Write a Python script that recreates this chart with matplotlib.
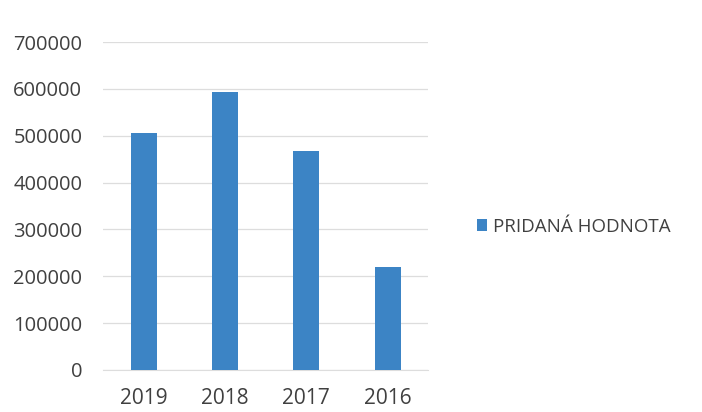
import numpy as np
import matplotlib
matplotlib.use("Agg")
import matplotlib.pyplot as plt

# data
years = ["2019", "2018", "2017", "2016"]
values = [505000, 593000, 467000, 220000]
series_name = "PRIDANÁ HODNOTA"
y_ticks = [0, 100000, 200000, 300000, 400000, 500000, 600000, 700000]

plt.rcParams['font.family'] = ['Open Sans', 'DejaVu Sans']

fig = plt.figure(figsize=(7.02, 4.12), dpi=100)
ax = fig.add_axes([0.147, 0.102, 0.463, 0.796])

x = np.arange(len(years))
ax.bar(x, values, width=0.32, color='#3C84C5', label=series_name, zorder=3)

ax.set_xlim(-0.5, len(years) - 0.5)
ax.set_ylim(0, 700000)
ax.set_yticks(y_ticks)
ax.set_yticklabels([str(v) for v in y_ticks])
ax.set_xticks(x)
ax.set_xticklabels(years)

ax.grid(axis='y', color='#DDDDDD', linewidth=0.9, zorder=0)
for s in ['top', 'right', 'left']:
    ax.spines[s].set_visible(False)
ax.spines['bottom'].set_color('#DDDDDD')
ax.tick_params(axis='both', length=0, colors='#404040')
ax.tick_params(axis='y', pad=15, labelsize=14.5)
ax.tick_params(axis='x', pad=13, labelsize=15)

fig.legend(loc='center left', bbox_to_anchor=(0.655, 0.45), frameon=False,
           fontsize=13.5, handlelength=0.55, handleheight=0.55, handletextpad=0.3,
           labelcolor='#404040')

fig.savefig("out.png", dpi=100)
